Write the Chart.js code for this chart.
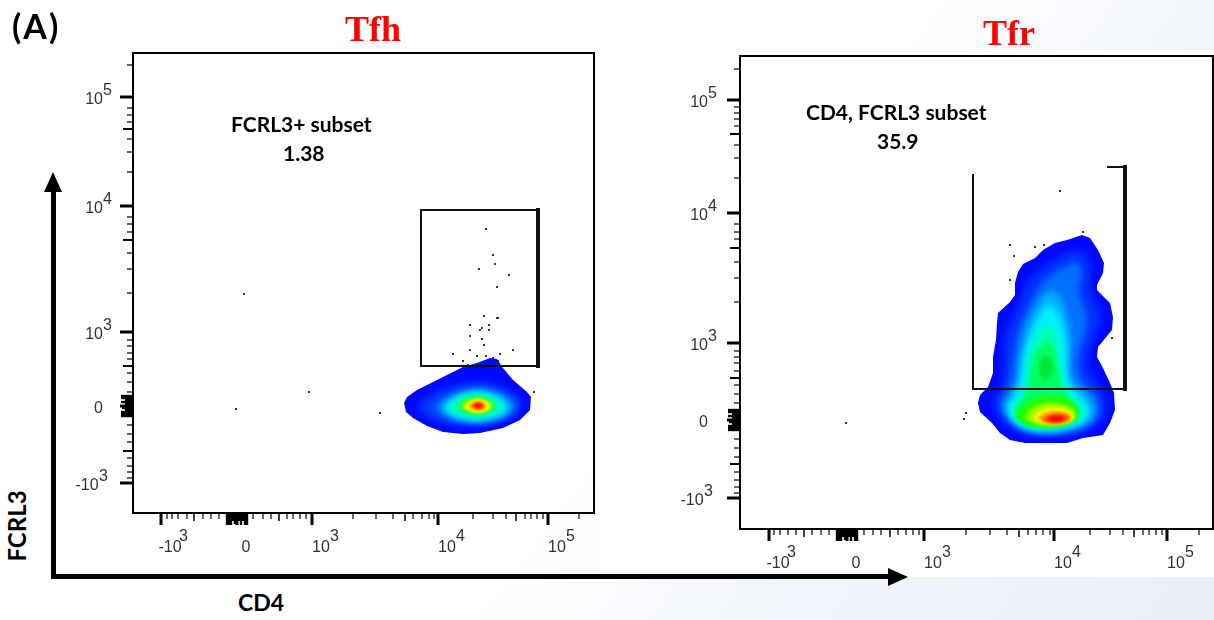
<!DOCTYPE html>
<html lang="en">
<head>
    <meta charset="UTF-8">
    <title>FCRL3 expression on Tfh and Tfr cells</title>
    <script src="https://cdn.jsdelivr.net/npm/chart.js"></script>
    <style>
        body {
            margin: 0;
            width: 1214px;
            height: 620px;
            overflow: hidden;
            position: relative;
            background: linear-gradient(127deg, #ffffff 56%, #f3f6fb 70%, #e9eef8 100%);
        }

        .panel { position: absolute; left: 600px; top: 50px; width: 614px; height: 527px; background: #fff; }
        canvas { position: absolute; }
        #tfhPlot { left: 60px; top: 40px; }
        #tfrPlot { left: 670px; top: 45px; }

        .label { position: absolute; font-family: Lato, sans-serif; font-weight: 700; color: #000; white-space: nowrap; line-height: 1; }
        .title { position: absolute; font-family: "Liberation Serif", serif; font-weight: 700; font-size: 36px; color: #f00; line-height: 1; }
        .arrow { position: absolute; background: #000; }
    </style>
</head>
<body>
    <div class="panel"></div>
    <canvas id="tfhPlot" width="545" height="530"></canvas>
    <canvas id="tfrPlot" width="544" height="530"></canvas>

    <div class="label" style="left:12px;top:9px;font-size:34px;letter-spacing:2px">(A)</div>
    <div class="title" style="left:345px;top:11px">Tfh</div>
    <div class="title" style="left:983px;top:15px">Tfr</div>
    <div class="label" style="left:231px;top:113px;font-size:21px">FCRL3+ subset</div>
    <div class="label" style="left:283px;top:142px;font-size:21px">1.38</div>
    <div class="label" style="left:806px;top:101px;font-size:21px">CD4, FCRL3 subset</div>
    <div class="label" style="left:877px;top:130px;font-size:21px">35.9</div>
    <div class="label" style="left:238px;top:591px;font-size:23px">CD4</div>
    <div class="label" style="left:17px;top:526px;font-size:24px;transform:translate(-50%,-50%) rotate(-90deg)">FCRL3</div>

    <div class="arrow" style="left:51px;top:190px;width:5px;height:389px"></div>
    <div class="arrow" style="left:44px;top:172px;width:18px;height:20px;clip-path:polygon(50% 0,100% 100%,0 100%)"></div>
    <div class="arrow" style="left:51px;top:574px;width:840px;height:5px"></div>
    <div class="arrow" style="left:888px;top:568px;width:20px;height:18px;clip-path:polygon(0 0,100% 50%,0 100%)"></div>

    <script>
        // All values are biexponential display channels, with channel 0 at the zero of the axis
        const decadeLabels = ['-10', '0', '10', '10', '10'];
        const decadeExponents = ['3', '', '3', '4', '5'];

        const tfhXDecades = [-76, 0, 75, 201, 311];
        const tfhXMid = [-43, 42, 168, 279];
        const tfhXMinor = [-70, -65, -59, -50, -34, -26, -18, 16, 26, 34, 50, 56, 63, 69, 116, 139, 156, 176, 185, 192, 197, 236, 256, 269, 288, 294, 300, 306, 342];
        const tfhYDecades = [-77, 0, 74, 200, 309];
        const tfhYMid = [-45, 40, 166, 277];
        const tfhYMinor = [-72, -66, -60, -52, -36, -28, -19, 14, 24, 33, 47, 53, 60, 66, 113, 137, 153, 174, 182, 189, 234, 254, 267, 284, 291, 298, 341];

        const tfrXDecades = [-78, 0, 77, 207, 320];
        const tfrXMid = [-43, 43, 172, 287];
        const tfrXMinor = [-73, -67, -59, -51, -35, -26, -18, 17, 26, 34, 51, 59, 66, 72, 119, 143, 160, 181, 189, 196, 203, 243, 263, 276, 296, 302, 309, 315, 352];
        const tfrYDecades = [-78, 0, 77, 207, 320];
        const tfrYMid = [-44, 42, 172, 286];
        const tfrYMinor = [-73, -67, -60, -52, -37, -28, -19, 17, 26, 35, 49, 57, 63, 69, 118, 142, 158, 181, 188, 196, 242, 262, 275, 294, 301, 307, 313, 351];

        // The solid block of ticks round zero, and how far each one sticks out
        const zeroBlock = [-10, -8, -6, -4, -2, 0, 2, 4, 6, 8, 10];
        const zeroBlockLength = [12, 12, 12, 8, 11, 8, 8, 12, 8, 12, 12];

        // Single events outside the density cloud
        const tfhEvents = [[249, 177], [256, 151], [258, 142], [242, 137], [272, 131], [260, 119], [247, 90], [260, 88], [261, 88], [233, 81], [252, 81], [245, 78], [243, 76], [252, 76], [233, 70], [245, 67], [247, 61], [233, 56], [276, 56], [216, 52], [240, 50], [249, 50], [263, 52], [256, 48], [226, 45], [261, 45], [231, 41], [297, 14], [143, -7], [7, 112], [72, 14], [-1, -3]];
        const tfrEvents = [[213, 229], [236, 188], [163, 175], [188, 173], [197, 175], [167, 164], [163, 140], [265, 82], [119, 7], [117, 1], [-1, -3]];

        // Gates: thin sides, then the heavy right hand side
        const tfhGate = [[301, 196], [184, 196], [184, 40], [301, 40]];
        const tfhGateRight = [[301, 196], [301, 40]];
        const tfrGate = [[126, 245], [126, 31], [278, 31]];
        const tfrGateRight = [[278, 31], [278, 253]];
        const tfrGateTop = [[261, 253], [278, 253]];

        // Density contours, outermost first
        const tfhColours = ['#0008ff', '#0038ff', '#0078ff', '#00c0ff', '#00ffe0', '#00ff80', '#40ff00', '#c0ff00', '#ffff00', '#ffa000', '#ff4000', '#f00000'];
        const tfhDensity = [
            [[167, 3], [170, 9], [180, 16], [200, 26], [226, 39], [240, 43], [253, 48], [260, 47], [266, 38], [276, 26], [290, 14], [294, 9], [293, -4], [283, -14], [266, -22], [243, -27], [226, -28], [206, -26], [190, -20], [176, -12], [169, -6]],
            [[180, 2], [205, 18], [240, 26], [265, 20], [283, 8], [287, -2], [270, -15], [240, -21], [205, -18], [185, -9]],
            [[195, 1], [215, 13], [240, 19], [265, 14], [279, 4], [277, -6], [262, -14], [240, -18], [215, -14], [200, -7]],
            [[203, 0], [218, 11], [240, 16], [260, 12], [274, 2], [272, -6], [258, -13], [240, -16], [220, -13], [207, -6]],
            [[208, 0], [222, 10], [240, 14], [258, 10], [270, 1], [268, -6], [255, -11], [240, -14], [222, -11], [211, -6]],
            [[214, 0], [226, 8], [240, 12], [255, 8], [264, 0], [255, -8], [240, -11], [226, -9]],
            [[220, 0], [230, 6], [241, 9], [252, 6], [258, 0], [252, -6], [241, -8], [230, -6]],
            [[223, 0], [232, 5], [241, 8], [250, 5], [256, 0], [250, -5], [241, -7], [232, -5]],
            [[226, 0], [233, 5], [241, 7], [249, 5], [254, 0], [249, -5], [241, -6], [233, -5]],
            [[231, 0], [236, 4], [241, 5], [246, 4], [250, 0], [246, -4], [241, -4], [236, -4]],
            [[234, 0], [238, 3], [241, 4], [245, 3], [247, 0], [245, -3], [241, -3], [238, -3]],
            [[237, 0], [240, 2], [243, 2], [245, 0], [243, -2], [240, -2]]
        ];

        const tfrColours = ['#0008ff', '#0030ff', '#0070ff', '#00b0ff', '#00f0ff', '#00ffb0', '#00ff60', '#00e838', '#20ff00', '#a0ff00', '#ffff00', '#ffa000', '#ff4000', '#f00000'];
        const tfrDensity = [
            [[131, 17], [133, 25], [141, 33], [146, 47], [146, 63], [149, 80], [150, 97], [151, 107], [163, 118], [168, 125], [168, 137], [171, 148], [176, 156], [188, 162], [196, 170], [208, 177], [220, 180], [235, 185], [243, 182], [251, 170], [257, 157], [256, 147], [250, 135], [250, 130], [263, 117], [266, 103], [265, 90], [251, 73], [250, 63], [256, 52], [263, 37], [267, 27], [268, 10], [263, -3], [256, -15], [236, -18], [220, -23], [196, -23], [178, -23], [163, -20], [153, -13], [145, -3], [133, 8]],
            [[143, 17], [155, 30], [156, 60], [158, 90], [173, 117], [180, 143], [210, 163], [233, 173], [246, 157], [241, 130], [256, 107], [250, 87], [240, 67], [243, 47], [256, 30], [260, 10], [251, -7], [223, -17], [180, -17], [156, -5]],
            [[150, 17], [163, 33], [166, 63], [170, 90], [185, 120], [196, 140], [216, 153], [231, 160], [236, 147], [230, 127], [243, 103], [236, 80], [230, 60], [233, 40], [251, 23], [253, 7], [245, -5], [220, -14], [183, -14], [163, -3]],
            [[155, 15], [170, 33], [173, 63], [178, 90], [188, 113], [200, 130], [213, 127], [221, 103], [225, 80], [221, 57], [225, 38], [245, 22], [248, 7], [240, -4], [213, -12], [183, -12], [165, -2]],
            [[158, 13], [173, 30], [176, 63], [183, 87], [193, 107], [201, 117], [210, 110], [215, 97], [220, 77], [220, 53], [221, 33], [240, 18], [243, 5], [236, -3], [210, -10], [185, -10], [166, -2]],
            [[163, 12], [178, 28], [180, 63], [188, 83], [200, 97], [208, 90], [213, 70], [215, 47], [220, 30], [235, 15], [238, 5], [231, -3], [208, -9], [185, -9], [168, -1]],
            [[166, 10], [181, 27], [185, 60], [193, 73], [201, 80], [208, 70], [211, 47], [216, 27], [231, 13], [234, 4], [226, -4], [208, -8], [185, -8], [171, 0]],
            [[191, 57], [200, 67], [208, 55], [203, 40], [193, 40]],
            [[168, 5], [181, 20], [208, 25], [228, 18], [233, 5], [223, -4], [208, -7], [185, -7], [173, -2]],
            [[176, 3], [188, 15], [208, 18], [225, 13], [230, 3], [220, -4], [206, -6], [188, -5]],
            [[185, 2], [193, 10], [208, 13], [223, 10], [228, 2], [220, -3], [206, -4], [193, -3]],
            [[190, 2], [196, 7], [208, 10], [221, 7], [226, 2], [220, -3], [208, -4], [196, -3]],
            [[195, 2], [208, 7], [220, 5], [223, 2], [216, -2], [208, -3], [198, -2]],
            [[200, 2], [208, 4], [216, 3], [218, 1], [212, -2], [204, -1]]
        ];

        const toPoints = pairs => pairs.map(p => ({ x: p[0], y: p[1] }));

        // Fills each contour as a closed shape, using the points the scales placed.
        // The outline stays crisp, the inner levels are smoothed and blurred into each other.
        const contourFill = {
            id: 'contourFill',
            beforeDatasetDraw(chart, args) {
                const dataset = chart.data.datasets[args.index];
                if (dataset.level === undefined) return;
                const pts = args.meta.data;
                const ctx = chart.ctx;
                ctx.save();
                ctx.fillStyle = dataset.backgroundColor;
                ctx.beginPath();
                if (dataset.level === 0) {
                    pts.forEach((p, i) => (i ? ctx.lineTo(p.x, p.y) : ctx.moveTo(p.x, p.y)));
                } else {
                    ctx.filter = dataset.level < 6 ? 'blur(3px)' : 'blur(1.5px)';
                    ctx.moveTo((pts[pts.length - 1].x + pts[0].x) / 2, (pts[pts.length - 1].y + pts[0].y) / 2);
                    pts.forEach((p, i) => {
                        const next = pts[(i + 1) % pts.length];
                        ctx.quadraticCurveTo(p.x, p.y, (p.x + next.x) / 2, (p.y + next.y) / 2);
                    });
                }
                ctx.closePath();
                ctx.fill();
                ctx.restore();
            }
        };

        // Plot frame, tick marks of three lengths and the raised exponents
        const cytometryAxes = {
            id: 'cytometryAxes',
            afterDraw(chart) {
                const ctx = chart.ctx;
                const area = chart.chartArea;
                const marks = chart.options.plugins.cytometryAxes;
                const xs = chart.scales.x;
                const ys = chart.scales.y;
                ctx.save();
                ctx.strokeStyle = '#000';
                ctx.lineWidth = 2;
                ctx.strokeRect(area.left, area.top, area.right - area.left, area.bottom - area.top);

                const tickX = (value, length, width) => {
                    const px = xs.getPixelForValue(value);
                    ctx.lineWidth = width;
                    ctx.beginPath();
                    ctx.moveTo(px, area.bottom);
                    ctx.lineTo(px, area.bottom + length);
                    ctx.stroke();
                };
                const tickY = (value, length, width) => {
                    const py = ys.getPixelForValue(value);
                    ctx.lineWidth = width;
                    ctx.beginPath();
                    ctx.moveTo(area.left, py);
                    ctx.lineTo(area.left - length, py);
                    ctx.stroke();
                };
                marks.xMinor.forEach(v => tickX(v, 6, 1.2));
                marks.xMid.forEach(v => tickX(v, 8, 1.5));
                marks.xDecades.forEach(v => tickX(v, 12, 3));
                marks.yMinor.forEach(v => tickY(v, 6, 1.2));
                marks.yMid.forEach(v => tickY(v, 10, 2));
                marks.yDecades.forEach(v => tickY(v, 13, 3));
                zeroBlock.forEach((v, i) => {
                    tickX(v, zeroBlockLength[i], 2.4);
                    tickY(v, zeroBlockLength[i], 2.4);
                });

                ctx.fillStyle = '#333';
                ctx.font = '16px "Liberation Sans"';
                ctx.textBaseline = 'middle';
                ctx.textAlign = 'left';
                const w = ctx.measureText('10').width;
                marks.xDecades.forEach((v, i) => {
                    ctx.fillText(decadeExponents[i], xs.getPixelForValue(v) + 9 + w / 2, area.bottom + marks.xExponentDrop);
                });
                marks.yDecades.forEach((v, i) => {
                    const right = area.left - marks.yLabelGap - (v < 0 ? 4 : 0);
                    ctx.fillText(decadeExponents[i], right, ys.getPixelForValue(v) - 6);
                });
                ctx.restore();
            }
        };

        function makeAxis(range, decades, tickPadding, labelOffset, fixedSize, isY) {
            return {
                type: 'linear',
                min: range[0],
                max: range[1],
                grid: { display: false, drawTicks: false },
                border: { display: false },
                afterBuildTicks: scale => { scale.ticks = decades.map(value => ({ value })); },
                afterFit: scale => {
                    if (isY) scale.width = fixedSize;
                    else scale.height = fixedSize;
                    scale.paddingTop = scale.paddingBottom = scale.paddingLeft = scale.paddingRight = 0;
                },
                ticks: {
                    autoSkip: false,
                    maxRotation: 0,
                    padding: tickPadding,
                    labelOffset: labelOffset,
                    color: '#333',
                    font: { family: '"Liberation Sans"', size: 16 },
                    callback: (value, i) => {
                        const text = decadeLabels[decades.indexOf(value)];
                        return isY && text === '-10' ? text + '\u00a0' : text;
                    }
                }
            };
        }

        function drawPlot(id, cfg) {
            const datasets = [
                { data: toPoints(cfg.events), pointRadius: 1.3, pointStyle: 'rect', backgroundColor: '#222', borderWidth: 0, showLine: false }
            ];
            cfg.gates.forEach(g => {
                datasets.push({ data: toPoints(g.points), showLine: true, fill: false, pointRadius: 0, borderColor: '#111', borderWidth: g.width, borderCapStyle: 'square' });
            });
            // First dataset is painted last, so the innermost contour goes in before the outer ones
            cfg.density.map((pairs, level) => ({ pairs, level })).reverse().forEach(c => {
                datasets.push({ data: toPoints(c.pairs), level: c.level, backgroundColor: cfg.colours[c.level], showLine: false, pointRadius: 0 });
            });

            new Chart(document.getElementById(id), {
                type: 'scatter',
                data: { datasets },
                plugins: [contourFill, cytometryAxes],
                options: {
                    responsive: false,
                    animation: false,
                    layout: { padding: cfg.padding, autoPadding: false },
                    plugins: {
                        legend: { display: false },
                        tooltip: { enabled: false },
                        cytometryAxes: cfg.marks
                    },
                    scales: {
                        x: makeAxis(cfg.xRange, cfg.marks.xDecades, 25, 9, cfg.xAxisHeight, false),
                        y: makeAxis(cfg.yRange, cfg.marks.yDecades, cfg.marks.yLabelGap, 3, cfg.yAxisWidth, true)
                    }
                }
            });
        }

        drawPlot('tfhPlot', {
            events: tfhEvents,
            gates: [{ points: tfhGate, width: 2 }, { points: tfhGateRight, width: 4 }],
            density: tfhDensity,
            colours: tfhColours,
            xRange: [-104, 357],
            yRange: [-107, 353],
            padding: { top: 13, right: 11, bottom: 0, left: 0 },
            xAxisHeight: 57,
            yAxisWidth: 73,
            marks: { xDecades: tfhXDecades, xMid: tfhXMid, xMinor: tfhXMinor, yDecades: tfhYDecades, yMid: tfhYMid, yMinor: tfhYMinor, yLabelGap: 30, xExponentDrop: 24 }
        });

        drawPlot('tfrPlot', {
            events: tfrEvents,
            gates: [{ points: tfrGate, width: 2 }, { points: tfrGateRight, width: 4 }, { points: tfrGateTop, width: 2 }],
            density: tfrDensity,
            colours: tfrColours,
            xRange: [-107, 366],
            yRange: [-109, 364],
            padding: { top: 11, right: 1, bottom: 0, left: 0 },
            xAxisHeight: 46,
            yAxisWidth: 70,
            marks: { xDecades: tfrXDecades, xMid: tfrXMid, xMinor: tfrXMinor, yDecades: tfrYDecades, yMid: tfrYMid, yMinor: tfrYMinor, yLabelGap: 32, xExponentDrop: 24 }
        });
    </script>
</body>
</html>
